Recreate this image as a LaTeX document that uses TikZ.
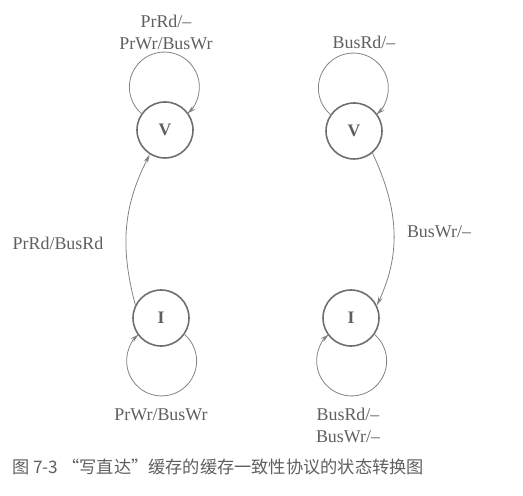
\documentclass[tikz,border=0pt]{standalone}
\usepackage{fontspec}
\setmainfont{Liberation Serif}
\newfontfamily\cjk{Noto Sans CJK SC}
\usepackage{xcolor}
\usetikzlibrary{arrows.meta, positioning}
\definecolor{cline}{RGB}{130,130,130}
\definecolor{cring}{RGB}{110,110,110}
\definecolor{ctext}{RGB}{95,95,95}
\newlength{\tikzunit}
\setlength{\tikzunit}{0.02cm}
\tikzset{
  state/.style={circle, draw=cring, line width=0.9pt, minimum size=56\tikzunit,
                inner sep=0pt, font=\fontsize{10}{12}\selectfont\bfseries, text=ctext},
  arr/.style={-{Stealth[length=5pt,width=2.6pt]}, draw=cline, line width=0.45pt},
  lbl/.style={font=\fontsize{10.2}{12.6}\selectfont, text=ctext, align=center, inner sep=1pt},
}
\begin{document}
\begin{tikzpicture}[x=0.02cm, y=0.02cm]
  \useasboundingbox (0,0) rectangle (523,496);

  % ── States ─────────────────────────────────────────────────────────────────
  \node[state] at (165,366) (vl) {V};
  \node[state] at (161,178) (il) {I};
  \node[state] at (354,365) (vr) {V};
  \node[state] at (351,178) (ir) {I};

  % ── Self loops ─────────────────────────────────────────────────────────────
  \draw[arr] (vl.145) arc[start angle=229, end angle=-49, radius=35];
  \draw[arr] (vr.145) arc[start angle=229, end angle=-49, radius=35];
  \draw[arr] (il.-35) arc[start angle=49, end angle=-229, radius=35];
  \draw[arr] (ir.-35) arc[start angle=49, end angle=-229, radius=35];

  % ── Transitions ────────────────────────────────────────────────────────────
  \draw[arr] (il.153) to[out=105, in=-117] (vl.-122);
  \draw[arr] (vr.-50) to[out=-65, in=65] (ir.26);

  % ── Labels ─────────────────────────────────────────────────────────────────
  \node[lbl] at (166,464) (vlloop) {PrRd/–\\PrWr/BusWr};
  \node[lbl] at (364,454) (vrloop) {BusRd/–};
  \node[lbl] at (58,253)  (upl)    {PrRd/BusRd};
  \node[lbl] at (439,264) (downl)  {BusWr/–};
  \node[lbl] at (161,81)  (illoop) {PrWr/BusWr};
  \node[lbl] at (348,71)  (irloop) {BusRd/–\\BusWr/–};

  % ── Caption ────────────────────────────────────────────────────────────────
  \node[anchor=west, inner sep=0pt, text=ctext, font=\cjk\fontsize{9.8}{12}\selectfont]
      at (12,29) (cap) {图 7-3 “写直达”缓存的缓存一致性协议的状态转换图};
\end{tikzpicture}
\end{document}
